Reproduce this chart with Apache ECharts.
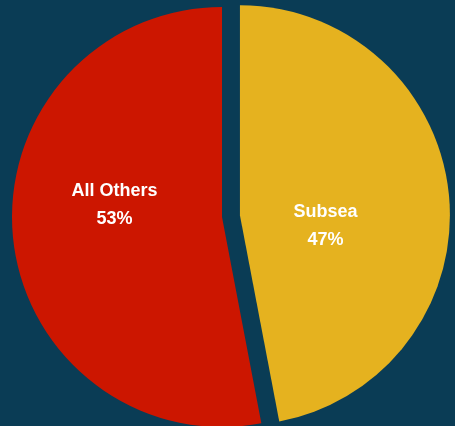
<!DOCTYPE html>
<html><head><meta charset="utf-8">
<script src="https://cdn.jsdelivr.net/npm/echarts@6/dist/echarts.min.js"></script>
<style>html,body{margin:0;padding:0;background:#0a3c55}#c{width:455px;height:426px}</style>
</head><body><div id="c"></div>
<script>
const categories = ['Subsea', 'All Others'];
const values = [47, 53];
const colors = ['#e5b21f', '#cc1600'];
const labelOffsets = [[-22, 21], [0, -22]];

const chart = echarts.init(document.getElementById('c'));
chart.setOption({
  backgroundColor: '#0a3c55',
  animation: false,
  series: [{
    type: 'pie',
    center: [222, 217],
    radius: [0, 210],
    startAngle: 90,
    clockwise: true,
    selectedMode: 'single',
    selectedOffset: 18,
    avoidLabelOverlap: false,
    itemStyle: { borderWidth: 0 },
    emphasis: { disabled: true },
    label: {
      show: true,
      position: 'inside',
      color: '#ffffff',
      fontFamily: 'Liberation Sans, Arial, sans-serif',
      fontWeight: 'bold',
      fontSize: 18,
      lineHeight: 28,
      formatter: p => p.name + '\n' + p.value + '%'
    },
    labelLine: { show: false },
    data: categories.map((n, i) => ({
      name: n,
      value: values[i],
      selected: i === 0,
      itemStyle: { color: colors[i] },
      label: { offset: labelOffsets[i] },
      select: { label: { offset: labelOffsets[i] }, itemStyle: { color: colors[i] } }
    }))
  }]
});
</script></body></html>
